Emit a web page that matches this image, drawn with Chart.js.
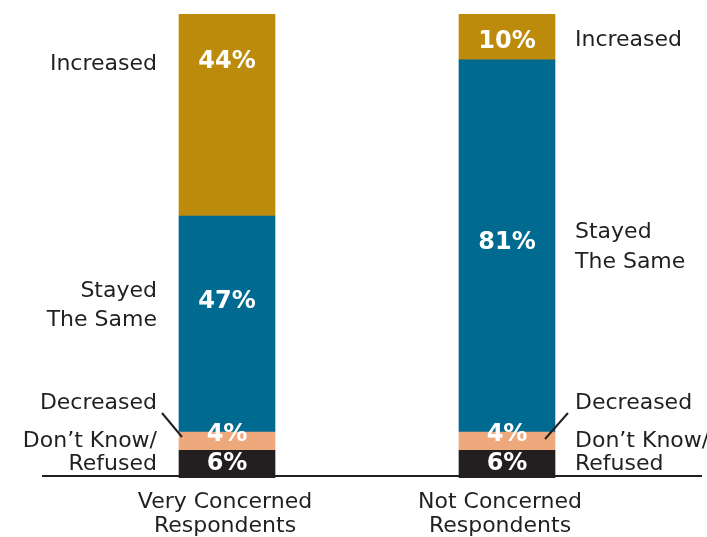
<!DOCTYPE html>
<html>
<head>
<meta charset="utf-8">
<script src="https://cdn.jsdelivr.net/npm/chart.js@4/dist/chart.umd.min.js"></script>
<style>
  html, body { margin: 0; padding: 0; background: #fff; }
  #wrap { width: 707px; height: 537px; }
</style>
</head>
<body>
<div id="wrap"><canvas id="myChart" width="707" height="537"></canvas></div>
<script>
'use strict';
// Data
var categories = [['Very Concerned', 'Respondents'], ['Not Concerned', 'Respondents']];
var seriesNames = ['Don\u2019t Know/Refused', 'Decreased', 'Stayed The Same', 'Increased'];
var dontKnow = [6, 6];
var decreased = [4, 4];
var stayedSame = [47, 81];
var increased = [44, 10];

var ink = '#231f20';
var font = '"DejaVu Sans", sans-serif';

// nudges for the % labels (px from segment centre), [dataset][bar]
var labelNudge = [[0, 0], [-6, -6], [-22, -3], [-53, 5]];
// category captions sit a touch left of the bar centre
var captionNudge = [-2, -7];

var labelsPlugin = {
  id: 'labels',
  beforeDatasetsDraw: function (chart) {
    var ctx = chart.ctx;
    var y0 = chart.scales.y.getPixelForValue(0);
    ctx.save();
    ctx.strokeStyle = ink;
    ctx.lineWidth = 2;
    ctx.beginPath();
    ctx.moveTo(42, y0 - 2);
    ctx.lineTo(702, y0 - 2);
    ctx.stroke();
    ctx.restore();
  },
  afterDatasetsDraw: function (chart) {
    var ctx = chart.ctx;
    ctx.save();
    // percentages inside bars
    ctx.fillStyle = '#fff';
    ctx.font = 'bold 24px ' + font;
    ctx.textAlign = 'center';
    ctx.textBaseline = 'middle';
    chart.data.datasets.forEach(function (ds, i) {
      chart.getDatasetMeta(i).data.forEach(function (bar, j) {
        var mid = (bar.y + bar.base) / 2;
        ctx.fillText(ds.data[j] + '%', bar.x, mid + labelNudge[i][j]);
      });
    });

    // category names under the bars
    ctx.fillStyle = ink;
    ctx.font = '22px ' + font;
    var xs = chart.scales.x;
    categories.forEach(function (lines, j) {
      var cx = xs.getPixelForValue(j) + captionNudge[j];
      lines.forEach(function (t, k) {
        ctx.fillText(t, cx, 502 + k * 24);
      });
    });

    // side labels
    ctx.textAlign = 'right';
    [['Increased', 64], ['Stayed', 291], ['The Same', 320], ['Decreased', 403],
     ['Don\u2019t Know/', 441], ['Refused', 464]].forEach(function (p) {
      ctx.fillText(p[0], 157, p[1]);
    });
    ctx.textAlign = 'left';
    [['Increased', 40], ['Stayed', 232], ['The Same', 262], ['Decreased', 403],
     ['Don\u2019t Know/', 441], ['Refused', 464]].forEach(function (p) {
      ctx.fillText(p[0], 575, p[1]);
    });

    // leader lines to the thin "Decreased" slices
    ctx.strokeStyle = ink;
    ctx.lineWidth = 2;
    ctx.beginPath();
    ctx.moveTo(162, 413);
    ctx.lineTo(182, 437);
    ctx.moveTo(568, 413);
    ctx.lineTo(545, 439);
    ctx.stroke();
    ctx.restore();
  }
};

var ctx = document.getElementById('myChart').getContext('2d');
var chart = new Chart(ctx, {
  type: 'bar',
  data: {
    labels: categories,
    datasets: [
      { label: seriesNames[0], data: dontKnow, backgroundColor: '#231f20' },
      { label: seriesNames[1], data: decreased, backgroundColor: '#eda97c' },
      { label: seriesNames[2], data: stayedSame, backgroundColor: '#006a90' },
      { label: seriesNames[3], data: increased, backgroundColor: '#bd8b0b' }
    ]
  },
  options: {
    responsive: false,
    animation: false,
    layout: { padding: { left: 87, right: 60, top: 14, bottom: 59 } },
    datasets: { bar: { barThickness: 96, borderWidth: 0 } },
    scales: {
      x: { stacked: true, display: false },
      y: { stacked: true, display: false, min: 0, max: 101 }
    },
    plugins: {
      legend: { display: false },
      tooltip: { enabled: false }
    }
  },
  plugins: [labelsPlugin]
});
</script>
</body>
</html>
